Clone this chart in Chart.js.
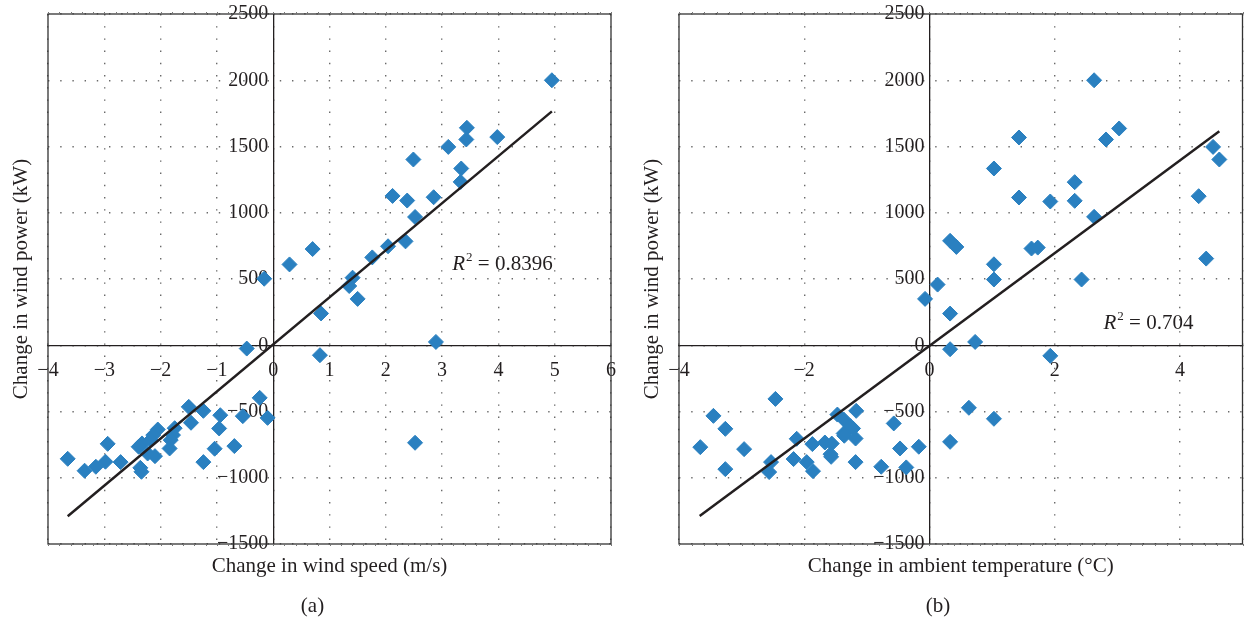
<!DOCTYPE html>
<html>
<head>
<meta charset="utf-8">
<script src="https://cdn.jsdelivr.net/npm/chart.js@4.4.1/dist/chart.umd.min.js"></script>
<style>
  body { margin: 0; background: #fff; }
  #wrap { position: relative; width: 1251px; height: 625px; }
  .box { position: absolute; top: 0; height: 625px; }
</style>
</head>
<body>
<div id="wrap">
  <div class="box" style="left:0;width:625px"><canvas id="chartA" width="625" height="625"></canvas></div>
  <div class="box" style="left:625px;width:626px"><canvas id="chartB" width="626" height="625"></canvas></div>
</div>
<script>
// (a) change in wind speed vs change in wind power
const speedX = [4.95, 3.44, 3.43, 3.98, 3.11, 2.49, 3.34, 3.33, 2.12, 2.38, 2.85, 2.52, 2.04, 2.35, 1.76, 0.70, 0.29, -0.16, 1.41, 1.35,
  1.50, 0.85, 2.89, 0.83, -0.47, 2.52, -0.24, -0.10, -0.54, -0.94, -0.96, -1.24, -1.50, -1.46, -1.04, -0.69, -1.24, -1.75, -1.78, -1.82,
  -1.84, -2.05, -2.13, -2.18, -2.10, -2.23, -2.33, -2.39, -2.36, -2.34, -2.94, -2.98, -2.71, -3.15, -3.35, -3.65];
const powerA = [2000, 1641, 1553, 1571, 1497, 1402, 1334, 1233, 1127, 1092, 1117, 968, 747, 784, 663, 726, 610, 502, 510, 447,
  350, 240, 25, -75, -25, -736, -397, -548, -535, -528, -628, -495, -465, -585, -781, -761, -882, -626, -678, -716,
  -779, -636, -678, -716, -837, -817, -741, -766, -925, -955, -744, -879, -882, -917, -947, -857];
const trendAX = [-3.65, 4.95];
const trendAY = [-1290, 1765];

// (b) change in ambient temperature vs change in wind power
const tempX = [2.63, 3.03, 2.82, 1.43, 4.53, 4.63, 1.03, 2.32, 4.30, 1.43, 1.93, 2.32, 2.63, 0.33, 0.43, 1.63, 1.73, 4.42, 1.03, 1.03,
  2.43, 0.13, -0.07, 0.33, 0.73, 0.33, 1.93, 0.63, 1.03, 0.33, -2.46, -3.45, -3.26, -3.66, -2.96, -3.26, -2.53, -2.56, -2.12, -2.17,
  -1.96, -1.87, -1.86, -1.67, -1.56, -1.58, -1.57, -1.47, -1.37, -1.26, -1.22, -1.37, -1.36, -1.17, -1.18, -1.18, -0.77, -0.57, -0.47, -0.37, -0.17];
const powerB = [2000, 1636, 1553, 1568, 1497, 1402, 1334, 1231, 1125, 1115, 1085, 1090, 969, 788, 742, 730, 737, 654, 611, 496,
  496, 458, 350, 239, 25, -30, -80, -472, -555, -729, -405, -533, -631, -769, -784, -935, -882, -957, -706, -859,
  -882, -746, -950, -734, -742, -822, -842, -523, -560, -611, -628, -666, -683, -495, -704, -882, -917, -590, -779, -922, -766];
const trendBX = [-3.67, 4.63];
const trendBY = [-1289, 1615];

const xTicksA = [-4, -3, -2, -1, 0, 1, 2, 3, 4, 5, 6];
const xGridB = [-4, -2, 0, 2, 4, 5];
const xTicksB = [-4, -2, 0, 2, 4];
const yTicks = [-1500, -1000, -500, 0, 500, 1000, 1500, 2000, 2500];

const yTitle = 'Change in wind power (kW)';
const xTitleA = 'Change in wind speed (m/s)';
const xTitleB = 'Change in ambient temperature (°C)';

const blue = '#2a80c0';
const ink = '#231f20';
const serif = "'Liberation Serif', 'DejaVu Serif', serif";

function toPoints(xs, ys) {
  let pts = [];
  for (let i = 0; i < xs.length; i++) pts.push({ x: xs[i], y: ys[i] });
  return pts;
}

function minus(v) {
  return String(v).replace('-', '\u2212');
}

// axes sit at 0, so their label overflow must not shrink the plot area
function noPadding(s) {
  s.paddingTop = 0;
  s.paddingBottom = 0;
  s.paddingLeft = 0;
  s.paddingRight = 0;
}

// frame (with its little minor ticks), axis titles, panel letter and R^2 text
const decor = {
  id: 'decor',
  afterDraw(chart, args, opts) {
    const c = chart.ctx;
    const a = chart.chartArea;
    const sx = chart.scales.x, sy = chart.scales.y;
    c.save();
    c.strokeStyle = '#333';
    c.lineWidth = 1.3;
    c.strokeRect(a.left, a.top, a.right - a.left, a.bottom - a.top);

    c.lineWidth = 1;
    c.strokeStyle = '#777';
    c.beginPath();
    for (let v = sx.min; v <= sx.max + 1e-9; v += opts.minorX) {
      let p = Math.round(sx.getPixelForValue(v)) + 0.5;
      c.moveTo(p, a.top); c.lineTo(p, a.top - 2);
      c.moveTo(p, a.bottom); c.lineTo(p, a.bottom + 2);
    }
    c.stroke();

    c.fillStyle = ink;
    c.font = '21px ' + serif;
    c.textAlign = 'center';
    c.textBaseline = 'middle';
    c.fillText(opts.xTitle, (a.left + a.right) / 2, 566);
    c.fillText(opts.letter, chart.width / 2, 606);

    c.save();
    c.translate(a.left - 27, (a.top + a.bottom) / 2);
    c.rotate(-Math.PI / 2);
    c.fillText(yTitle, 0, 0);
    c.restore();

    // R^2 = ...
    let px = sx.getPixelForValue(opts.rx);
    let py = sy.getPixelForValue(opts.ry);
    c.textAlign = 'left';
    c.textBaseline = 'alphabetic';
    c.font = 'italic 21px ' + serif;
    c.fillText('R', px, py + 7);
    px += c.measureText('R').width + 1;
    c.font = '13px ' + serif;
    c.fillText('2', px, py - 2);
    px += c.measureText('2').width;
    c.font = '21px ' + serif;
    c.fillText(' = ' + opts.r2, px, py + 7);
    c.restore();
  }
};

function makeChart(id, xs, ys, tx, ty, xMin, xMax, gridX, labelX, pad, deco) {
  const ctx = document.getElementById(id).getContext('2d');
  return new Chart(ctx, {
    type: 'scatter',
    data: {
      datasets: [{
        data: toPoints(xs, ys),
        pointStyle: 'rectRot',
        pointRadius: 7.5,
        pointHoverRadius: 7.5,
        backgroundColor: blue,
        borderColor: blue,
        borderWidth: 1,
        order: 2
      }, {
        type: 'line',
        data: toPoints(tx, ty),
        borderColor: ink,
        borderWidth: 2.5,
        pointRadius: 0,
        fill: false,
        order: 1
      }]
    },
    options: {
      responsive: false,
      animation: false,
      layout: { padding: pad },
      plugins: {
        legend: { display: false },
        tooltip: { enabled: false },
        decor: deco
      },
      scales: {
        x: {
          type: 'linear',
          min: xMin,
          max: xMax,
          position: { y: 0 },
          afterBuildTicks: s => { s.ticks = gridX.map(v => ({ value: v })) },
          afterFit: noPadding,
          grid: { color: '#6a6a6a', lineWidth: 1.4, drawTicks: false },
          // in v4 border.dash styles the grid lines, the axis line itself stays solid
          border: { display: true, color: ink, width: 1.3, dash: [1.4, 10.8] },
          ticks: {
            autoSkip: false,
            maxRotation: 0,
            padding: 13,
            color: ink,
            font: { family: serif, size: 20 },
            callback: v => labelX.includes(v) ? minus(v) : ''
          }
        },
        y: {
          type: 'linear',
          min: -1500,
          max: 2500,
          position: { x: 0 },
          afterBuildTicks: s => { s.ticks = yTicks.map(v => ({ value: v })) },
          afterFit: noPadding,
          grid: { color: '#6a6a6a', lineWidth: 1.4, drawTicks: false },
          border: { display: true, color: ink, width: 1.3, dash: [1.4, 10.8] },
          ticks: {
            autoSkip: false,
            color: ink,
            font: { family: serif, size: 20 },
            // centred y axis ignores tick padding, a trailing space keeps the gap
            callback: v => minus(v) + ' '
          }
        }
      }
    },
    plugins: [decor]
  });
}

Chart.defaults.font.family = serif;

makeChart('chartA', speedX, powerA, trendAX, trendAY, -4, 6, xTicksA, xTicksA,
  { left: 48, right: 14, top: 14, bottom: 81 },
  { xTitle: xTitleA, letter: '(a)', rx: 3.18, ry: 619, r2: '0.8396', minorX: 0.2 });

makeChart('chartB', tempX, powerB, trendBX, trendBY, -4, 5, xGridB, xTicksB,
  { left: 54, right: 4, top: 14, bottom: 81 },
  { xTitle: xTitleB, letter: '(b)', rx: 2.78, ry: 174, r2: '0.704', minorX: 0.2 });
</script>
</body>
</html>
